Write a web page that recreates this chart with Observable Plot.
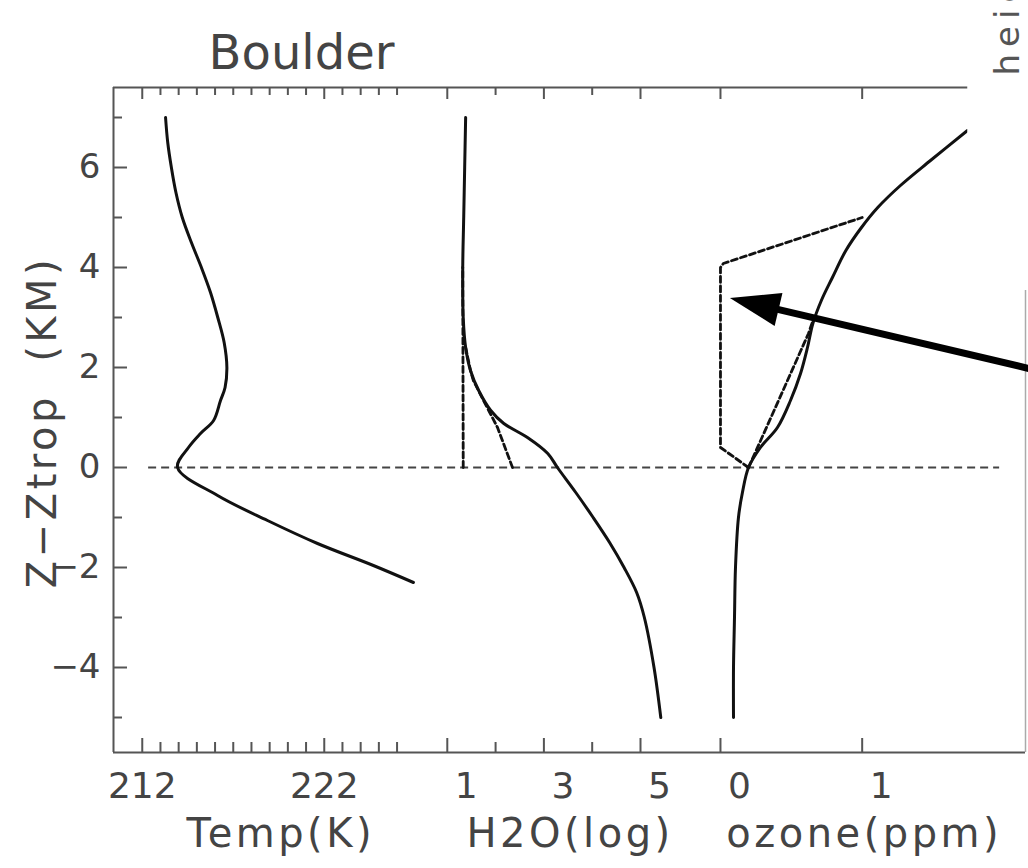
<!DOCTYPE html>
<html>
<head>
<meta charset="utf-8">
<script src="https://cdn.jsdelivr.net/npm/d3@7"></script>
<script src="https://cdn.jsdelivr.net/npm/@observablehq/plot@0.6"></script>
<style>
  html, body { margin: 0; padding: 0; background: #fff; }
  #chart svg { display: block; }
</style>
</head>
<body>
<div id="chart"></div>
<script>
// Boulder sounding: temperature, water vapour and ozone against height above the tropopause
const title = "Boulder";
const yLabel = "Z\u2212Ztrop  (KM)";
const sideNote = "height";

// Temperature profile (K)
const tempZ = [7.0, 6.5, 6.0, 5.5, 5.0, 4.5, 4.0, 3.5, 3.0, 2.5, 2.0, 1.6, 1.34, 0.94, 0.68, 0.4, 0.0, -0.56, -1.06, -1.52, -1.96, -2.3];
const tempK = [213.28, 213.4, 213.6, 213.85, 214.2, 214.7, 215.25, 215.75, 216.15, 216.5, 216.65, 216.55, 216.3, 215.92, 215.2, 214.54, 213.94, 216.14, 218.88, 221.63, 224.7, 226.9];

// Water vapour profile (log units) and the two idealised profiles (dashed)
const h2oZ = [7.0, 6.0, 5.0, 4.0, 3.0, 2.4, 1.94, 1.54, 1.14, 0.88, 0.6, 0.28, 0.0, -0.5, -1.0, -1.5, -2.0, -2.5, -3.0, -4.0, -5.0];
const h2oLog = [1.38, 1.36, 1.34, 1.32, 1.33, 1.38, 1.48, 1.65, 1.90, 2.17, 2.66, 3.08, 3.28, 3.66, 4.02, 4.36, 4.66, 4.92, 5.08, 5.28, 5.42];
const h2oDashAZ = [0.0, 4.0];
const h2oDashA = [1.33, 1.32];
const h2oDashBZ = [0.0, 0.8, 1.34, 1.74, 1.94, 2.4];
const h2oDashB = [2.35, 2.04, 1.75, 1.54, 1.48, 1.38];

// Ozone profile (ppm) and the two idealised profiles (dashed)
const ozoneZ = [-5.0, -4.0, -3.0, -2.0, -1.0, -0.5, 0.0, 0.4, 0.8, 1.34, 1.88, 2.4, 2.88, 3.34, 3.8, 4.34, 4.8, 5.2, 5.64, 6.14, 6.74];
const ozonePpm = [0.092, 0.092, 0.099, 0.106, 0.127, 0.155, 0.198, 0.282, 0.402, 0.494, 0.565, 0.614, 0.652, 0.712, 0.79, 0.885, 0.995, 1.11, 1.270, 1.482, 1.743];
const ozoneDashAZ = [0.0, 0.4, 4.0, 4.08, 5.0];
const ozoneDashA = [0.198, 0.0, 0.0, 0.02, 1.0];
const ozoneDashBZ = [0.0, 1.34, 2.68, 3.0];
const ozoneDashB = [0.198, 0.41, 0.621, 0.66];

// Tick values and labels of the three sub-axes
const tempTicks = [212, 213, 214, 215, 216, 217, 218, 219, 220, 221, 222, 223, 224, 225, 226];
const tempLabels = [212, 222];
const h2oTicks = [1, 2, 3, 4, 5];
const h2oLabels = [1, 3, 5];
const ozoneTicks = [0, 1];
const ozoneLabels = [0, 1];
const zTicks = [-5, -4, -3, -2, -1, 0, 1, 2, 3, 4, 5, 6, 7];
const zLabels = [-4, -2, 0, 2, 4, 6];
const axisTitles = ["Temp(K)", "H2O(log)", "ozone(ppm)"];
const axisTitleAt = [219.5, 3.5, 1.0];   // in each sub-axis' own units

// Arrow pointing at the idealised ozone profile
const arrowFrom = {ozone: 2.3, z: 1.89};
const arrowTo = {ozone: 0.07, z: 3.38};

// Tropopause line, from temperature 212.35 K to ozone 1.97 ppm
const tropStart = 212.35, tropEnd = 1.97;

// Shared horizontal axis: kelvin units, with water vapour and ozone placed to the right
const xDomain = [210.42, 260.53];
const yDomain = [-5.7, 7.6];
const h2oOffset = 228.76, h2oPerUnit = 2.654;
const ozoneOffset = 243.77, ozonePerUnit = 7.786;
const tempX = t => t;
const h2oX = h => h2oOffset + (h - 1) * h2oPerUnit;
const ozoneX = o => ozoneOffset + o * ozonePerUnit;

// Box of the side note that hides the top-right corner of the frame
const noteBox = {ozone: 1.745, z: 3.54};

const zip = (zs, vs, fx) => zs.map((z, i) => ({z, x: fx(vs[i])}));
const tempData = zip(tempZ, tempK, tempX);
const h2oData = zip(h2oZ, h2oLog, h2oX);
const h2oA = zip(h2oDashAZ, h2oDashA, h2oX);
const h2oB = zip(h2oDashBZ, h2oDashB, h2oX);
const ozoneData = zip(ozoneZ, ozonePpm, ozoneX);
const ozoneA = zip(ozoneDashAZ, ozoneDashA, ozoneX);
const ozoneB = zip(ozoneDashBZ, ozoneDashB, ozoneX);

const xTicks = [
  ...tempTicks.map(t => ({x: tempX(t), major: tempLabels.includes(t)})),
  ...h2oTicks.map(h => ({x: h2oX(h), major: h2oLabels.includes(h)})),
  ...ozoneTicks.map(o => ({x: ozoneX(o), major: ozoneLabels.includes(o)}))
];
const xLabels = [
  ...tempLabels.map(t => ({x: tempX(t), text: String(t), shift: 0})),
  ...h2oLabels.map(h => ({x: h2oX(h), text: String(h), shift: 19})),
  ...ozoneLabels.map(o => ({x: ozoneX(o), text: String(o), shift: 19}))
];
const titleData = [
  {x: tempX(axisTitleAt[0]), text: axisTitles[0]},
  {x: h2oX(axisTitleAt[1]), text: axisTitles[1]},
  {x: ozoneX(axisTitleAt[2]), text: axisTitles[2]}
];
const yTicks = zTicks.map(z => ({z, major: zLabels.includes(z)}));

const W = 1028, H = 868;
const mTop = 87, mBottom = 116, mLeft = 113, mRight = 3;
const frameH = H - mTop - mBottom, frameW = W - mLeft - mRight;
const ink = "#111", frameInk = "#555", textInk = "#444";
const font = "DejaVu Sans";

// Filled-head arrow drawn in screen space from the scaled end points
function arrowMark(index, scales) {
  const {x, y} = scales;
  const x1 = x(ozoneX(arrowFrom.ozone)), y1 = y(arrowFrom.z);
  const x2 = x(ozoneX(arrowTo.ozone)), y2 = y(arrowTo.z);
  const len = Math.hypot(x2 - x1, y2 - y1);
  const ux = (x2 - x1) / len, uy = (y2 - y1) / len;
  const headLen = 50, headHalf = 17;
  const bx = x2 - ux * headLen, by = y2 - uy * headLen;
  const g = d3.create("svg:g");
  g.append("line")
    .attr("x1", x1).attr("y1", y1)
    .attr("x2", bx + ux * 3).attr("y2", by + uy * 3)
    .attr("stroke", "#000").attr("stroke-width", 7);
  g.append("path")
    .attr("d", `M${x2},${y2}L${bx - uy * headHalf},${by + ux * headHalf}L${bx + uy * headHalf},${by - ux * headHalf}Z`)
    .attr("fill", "#000");
  return g.node();
}

const solid = {x: "x", y: "z", stroke: ink, strokeWidth: 3, curve: "catmull-rom"};
const dashed = {x: "x", y: "z", stroke: "#111", strokeWidth: 2.8, strokeDasharray: "6,3.5"};

const chart = Plot.plot({
  width: W,
  height: H,
  marginTop: mTop,
  marginBottom: mBottom,
  marginLeft: mLeft,
  marginRight: mRight,
  style: {fontFamily: font, background: "#fff", overflow: "visible"},
  x: {domain: xDomain, axis: null},
  y: {domain: yDomain, axis: null},
  marks: [
    // frame
    Plot.ruleX([xDomain[0]], {stroke: frameInk, strokeWidth: 2}),
    Plot.ruleY([yDomain[0]], {stroke: frameInk, strokeWidth: 2}),
    Plot.ruleY([yDomain[1]], {stroke: frameInk, strokeWidth: 2}),
    Plot.ruleX([xDomain[1]], {stroke: "#aaa", strokeWidth: 1.5}),
    // bottom and top ticks
    Plot.tickX(xTicks.filter(d => d.major), {x: "x", stroke: frameInk, strokeWidth: 2, insetTop: frameH - 14}),
    Plot.tickX(xTicks.filter(d => !d.major), {x: "x", stroke: frameInk, strokeWidth: 2, insetTop: frameH - 10}),
    Plot.tickX(xTicks.filter(d => d.major), {x: "x", stroke: frameInk, strokeWidth: 2, insetBottom: frameH - 12}),
    Plot.tickX(xTicks.filter(d => !d.major), {x: "x", stroke: frameInk, strokeWidth: 2, insetBottom: frameH - 8}),
    // left ticks
    Plot.tickY(yTicks.filter(d => d.major), {y: "z", stroke: frameInk, strokeWidth: 2, insetRight: frameW - 14}),
    Plot.tickY(yTicks.filter(d => !d.major), {y: "z", stroke: frameInk, strokeWidth: 2, insetRight: frameW - 9}),
    // tropopause
    Plot.ruleY([0], {x1: tempX(tropStart), x2: ozoneX(tropEnd), stroke: "#444", strokeWidth: 2, strokeDasharray: "8,5"}),
    // profiles
    Plot.line(h2oA, dashed),
    Plot.line(h2oB, dashed),
    Plot.line(ozoneA, dashed),
    Plot.line(ozoneB, dashed),
    Plot.line(tempData, solid),
    Plot.line(h2oData, solid),
    Plot.line(ozoneData, solid),
    // side note box
    Plot.rect([noteBox], {
      x1: d => ozoneX(d.ozone), x2: () => xDomain[1] + 2,
      y1: d => d.z, y2: () => yDomain[1] + 3,
      fill: "#fff"
    }),
    Plot.text([sideNote], {
      frameAnchor: "top-right", dx: -7, dy: -12, rotate: -90,
      textAnchor: "start", lineAnchor: "bottom", fontSize: 34, fill: "#555"
    }),
    // tick labels
    Plot.text(zLabels, {
      y: d => d, frameAnchor: "left", dx: -13, textAnchor: "end",
      text: d => d < 0 ? "\u2212" + Math.abs(d) : String(d),
      fontSize: 34, fill: textInk
    }),
    Plot.text(xLabels.filter(d => d.shift === 0), {
      x: "x", text: "text", frameAnchor: "bottom", dy: 45, lineAnchor: "bottom",
      fontSize: 36, fill: textInk
    }),
    Plot.text(xLabels.filter(d => d.shift !== 0), {
      x: "x", text: "text", frameAnchor: "bottom", dx: 19, dy: 45, lineAnchor: "bottom",
      fontSize: 36, fill: textInk
    }),
    // axis titles
    Plot.text(titleData, {
      x: "x", text: "text", frameAnchor: "bottom", dx: 2, dy: 94, lineAnchor: "bottom",
      fontSize: 40, fill: textInk
    }),
    Plot.text([yLabel], {
      frameAnchor: "left", dx: -70, dy: 2, rotate: -90, textAnchor: "middle",
      fontSize: 40, fill: textInk
    }),
    Plot.text([title], {
      frameAnchor: "top-left", dx: 188, dy: -53, textAnchor: "middle",
      fontSize: 48, fill: textInk
    }),
    // annotation arrow
    arrowMark
  ]
});

// Slightly wider letter spacing for the axis titles and the side note
const spacing = new Map([...axisTitles.map(t => [t, "3.5px"]), [yLabel, "3.5px"], [sideNote, "7px"]]);
d3.select(chart).selectAll("text")
  .filter(function () { return spacing.has(this.textContent); })
  .style("letter-spacing", function () { return spacing.get(this.textContent); });

document.getElementById("chart").appendChild(chart);
</script>
</body>
</html>
